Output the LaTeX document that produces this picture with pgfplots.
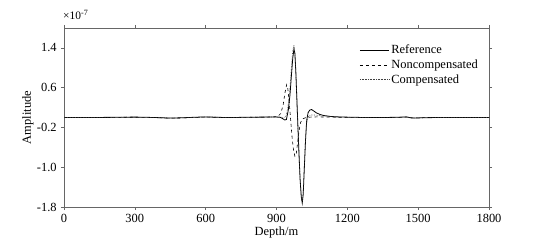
\documentclass[border=0pt]{standalone}
\usepackage{pgfplots}
\pgfplotsset{compat=1.18}
\usepackage{fontspec}
\setmainfont{Liberation Serif}
\begin{document}
\fontsize{12.5}{14}\selectfont
\begin{tikzpicture}
\useasboundingbox (-64bp,-33bp) rectangle (483bp,207bp);
\begin{axis}[
  at={(0,0)}, anchor=south west,
  scale only axis, width=425bp, height=179bp,
  xmin=0, xmax=1800, ymin=-1.8, ymax=1.8,
  xtick={0,300,...,1800},
  ytick={-1.8,-1.0,-0.2,0.6,1.4},
  xticklabel style={/pgf/number format/.cd,1000 sep={}},
  yticklabel style={/pgf/number format/.cd,fixed,fixed zerofill,precision=1},
  /pgf/number format/assume math mode=true,
  tick align=outside, tick pos=both,
  major tick length=3bp,
  axis line style={gray!80!black, line width=0.8pt},
  every tick/.style={gray!80!black, line width=0.6pt},
  xlabel={Depth/m}, ylabel={Amplitude},
  xlabel style={yshift=4.5bp},
  ylabel style={yshift=-5bp},
  legend style={draw=none, fill=none, at={(0.688,0.93)}, anchor=north west, font=\fontsize{12.5}{14}\selectfont, row sep=0.3bp},
  legend cell align=left,
  legend image code/.code={\draw[#1] (0bp,0bp) -- (29bp,0bp);},
]
\addplot[black, line width=0.8pt] coordinates {
(0,0) (100,0.0) (200,0.003) (300,0.008) (350,0.004) (400,-0.003) (450,-0.012) (500,-0.006) (550,0.004) (600,0.012) (650,0.004) (700,-0.002) (750,0.003) (800,0.006) (850,0.008) (890,0.012) (915,0.005) (925,-0.02) (935,-0.05) (942,-0.04) (950,0.15) (957,0.45) (964,0.9) (969,1.2) (974,1.38) (978,1.28) (982,0.9) (986,0.4) (990,-0.1) (995,-0.7) (1000,-1.25) (1005,-1.6) (1009,-1.72) (1013,-1.55) (1018,-1.0) (1023,-0.45) (1028,-0.05) (1034,0.1) (1041,0.15) (1049,0.16) (1058,0.13) (1070,0.09) (1085,0.06) (1100,0.04) (1130,0.02) (1170,0.01) (1250,0.002) (1350,0.0) (1420,0.005) (1450,0.012) (1470,-0.008) (1490,-0.012) (1520,-0.004) (1600,0) (1800,0)
};
\addlegendentry{Reference}
\addplot[black, line width=0.6pt, dashed] coordinates {
(0,0) (100,0.0) (200,0.002) (300,0.006) (400,-0.004) (450,-0.014) (500,-0.008) (600,0.010) (700,-0.003) (800,0.005) (880,0.01) (905,0.02) (918,0.08) (928,0.25) (936,0.5) (943,0.66) (948,0.58) (954,0.3) (960,-0.05) (966,-0.4) (972,-0.65) (978,-0.78) (984,-0.72) (990,-0.48) (996,-0.25) (1002,-0.1) (1010,-0.03) (1025,0.0) (1050,0.01) (1080,0.012) (1120,0.008) (1200,0.002) (1420,0.004) (1450,0.01) (1480,-0.01) (1520,-0.004) (1600,0) (1800,0)
};
\addlegendentry{Noncompensated}
\addplot[black!75, line width=0.6pt, densely dotted] coordinates {
(0,0) (100,0.0) (200,0.002) (300,0.007) (400,-0.004) (450,-0.013) (500,-0.007) (600,0.011) (700,-0.002) (800,0.005) (890,0.01) (915,0.01) (930,0.0) (940,0.02) (948,0.2) (956,0.55) (963,1.0) (969,1.35) (974,1.46) (978,1.3) (982,0.9) (986,0.4) (990,-0.15) (995,-0.75) (1000,-1.25) (1005,-1.58) (1009,-1.68) (1013,-1.5) (1018,-0.95) (1023,-0.4) (1028,-0.1) (1035,0.02) (1045,0.05) (1060,0.05) (1080,0.04) (1100,0.03) (1150,0.01) (1250,0.0) (1420,0.004) (1450,0.01) (1480,-0.01) (1520,-0.004) (1600,0) (1800,0)
};
\addlegendentry{Compensated}
\end{axis}
\node[anchor=base west, inner sep=0pt, font=\fontsize{11.5}{12}\selectfont] at (-1bp,187bp) {×10\textsuperscript{-7}};
\end{tikzpicture}
\end{document}
